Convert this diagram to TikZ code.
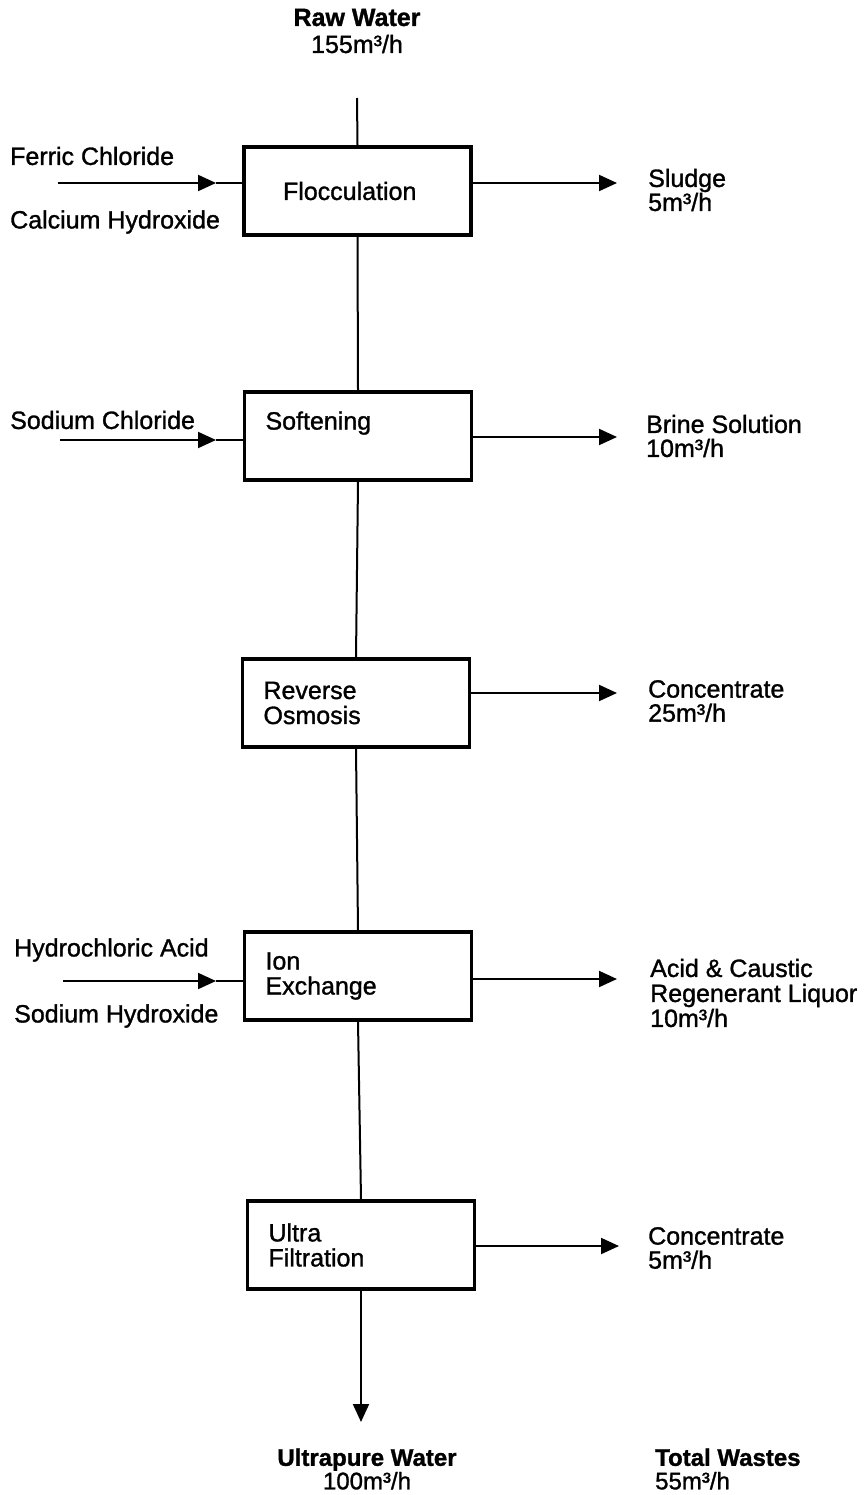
\documentclass[tikz,border=0pt]{standalone}
\usepackage{fontspec}
\setmainfont{Liberation Sans}[FakeBold=1.2]
\usetikzlibrary{arrows.meta}

\begin{document}
\begin{tikzpicture}[x=1pt,y=-1pt,
  font=\fontsize{25}{25}\selectfont,
  unit/.style={draw, line width=3.5pt, minimum width=227pt, minimum height=88pt,
               inner sep=0pt, text width=185pt, align=left},
  flow/.style={line width=2pt},
  arr/.style={flow, -{Triangle[length=18pt,width=16pt]}},
  lbl/.style={anchor=west, inner sep=0pt, align=left},
  clbl/.style={inner sep=0pt, align=center},
]
\useasboundingbox (0,0) rectangle (865,1495);

% treatment stages
\node[unit] (floc) at (357.5,191) {\hspace*{18pt}Flocculation};
\node[unit] (soft) at (358,436) {Softening\\[6pt]\mbox{}};
\node[unit] (ro)   at (356,703) {Reverse\\Osmosis};
\node[unit] (ix)   at (358,976) {Ion\\Exchange};
\node[unit] (uf)   at (361,1245) {Ultra\\Filtration};

% main water line
\node[clbl, font=\fontsize{25}{27}\selectfont] (raw) at (357,31) {\textbf{Raw Water}\\155m³/h};
\coordinate (rawend) at (357,98);
\draw[flow] (rawend) -- (floc.north);
\draw[flow] (floc.south) -- (soft.north);
\draw[flow] (soft.south) -- (ro.north);
\draw[flow] (ro.south) -- (ix.north);
\draw[flow] (ix.south) -- (uf.north);
\node[clbl, font=\fontsize{24}{23.5}\selectfont] (pure) at (367,1469) {\textbf{Ultrapure Water}\\100m³/h};
\coordinate (puretip) at (361,1422);
\draw[arr] (uf.south) -- (puretip);

% chemical feeds
\node[lbl] (fecl) at (10,156) {Ferric Chloride};
\node[lbl] (caoh) at (10,222) {Calcium Hydroxide};
\coordinate (f1s) at (58,183);
\coordinate (f1m) at (216,183);
\draw[arr] (f1s) -- (f1m);
\draw[flow] (f1m) -- (floc.west |- f1m);

\node[lbl] (nacl) at (10,420) {Sodium Chloride};
\coordinate (f2s) at (60,440);
\coordinate (f2m) at (216,440);
\draw[arr] (f2s) -- (f2m);
\draw[flow] (f2m) -- (soft.west |- f2m);

\node[lbl] (hcl) at (14,950) {Hydrochloric Acid};
\node[lbl] (naoh) at (14,1016) {Sodium Hydroxide};
\coordinate (f3s) at (63,981);
\coordinate (f3m) at (216,981);
\draw[arr] (f3s) -- (f3m);
\draw[flow] (f3m) -- (ix.west |- f3m);

% waste streams
\coordinate (w1) at (617,183);
\draw[arr] (floc.east |- w1) -- (w1);
\node[lbl, font=\fontsize{25}{24}\selectfont] (sludge) at (648,190) {Sludge\\5m³/h};

\coordinate (w2) at (617,437);
\draw[arr] (soft.east |- w2) -- (w2);
\node[lbl, font=\fontsize{25}{24}\selectfont] (brine) at (646,436) {Brine Solution\\10m³/h};

\coordinate (w3) at (617,693);
\draw[arr] (ro.east |- w3) -- (w3);
\node[lbl, font=\fontsize{25}{24}\selectfont] (conc1) at (648,701) {Concentrate\\25m³/h};

\coordinate (w4) at (617,979);
\draw[arr] (ix.east |- w4) -- (w4);
\node[lbl] (regen) at (650,993) {Acid \& Caustic\\Regenerant Liquor\\10m³/h};

\coordinate (w5) at (619,1246);
\draw[arr] (uf.east |- w5) -- (w5);
\node[lbl, font=\fontsize{25}{24}\selectfont] (conc2) at (648,1248) {Concentrate\\5m³/h};

\node[lbl, font=\fontsize{24}{23.5}\selectfont] (total) at (655,1469) {\textbf{Total Wastes}\\55m³/h};
\end{tikzpicture}
\end{document}
